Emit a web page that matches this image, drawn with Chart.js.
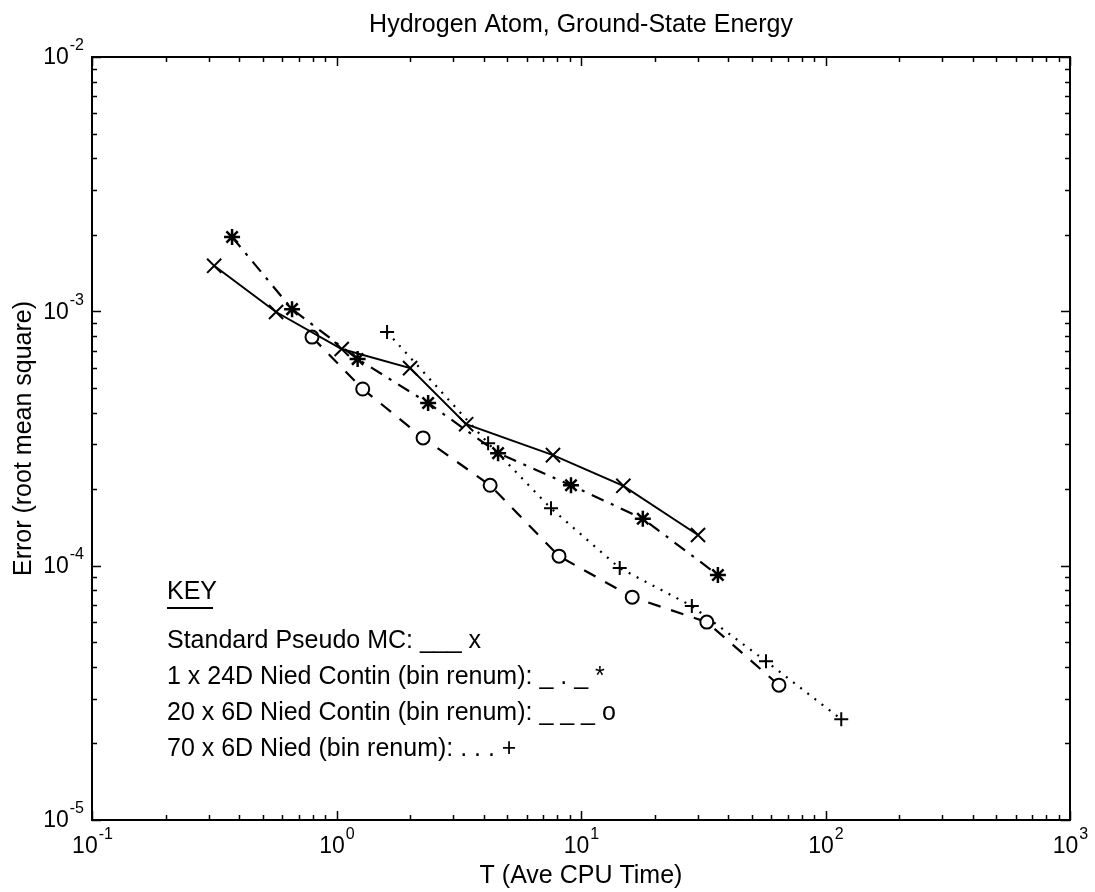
<!DOCTYPE html>
<html>
<head>
<meta charset="utf-8">
<script src="https://cdn.jsdelivr.net/npm/chart.js@4/dist/chart.umd.min.js"></script>
<style>
  html, body { margin: 0; padding: 0; background: #fff; }
  #wrap { width: 1095px; height: 892px; }
</style>
</head>
<body>
<div id="wrap"><canvas id="c" width="1095" height="892"></canvas></div>
<script>
// ---- data ----
const chartTitle = 'Hydrogen Atom, Ground-State Energy';
const xTitle = 'T (Ave CPU Time)';
const yTitle = 'Error (root mean square)';

const seriesNames = [
  'Standard Pseudo MC',
  '1 x 24D Nied Contin (bin renum)',
  '20 x 6D Nied Contin (bin renum)',
  '70 x 6D Nied (bin renum)'
];

const stdT   = [0.316, 0.566, 1.05, 2.0, 3.39, 7.68, 14.9, 30.1];
const stdErr = [1.51e-3, 9.94e-4, 7.11e-4, 5.98e-4, 3.60e-4, 2.72e-4, 2.06e-4, 1.32e-4];

const c24T   = [0.374, 0.658, 1.22, 2.37, 4.58, 9.10, 17.9, 36.3];
const c24Err = [1.96e-3, 1.02e-3, 6.49e-4, 4.36e-4, 2.77e-4, 2.07e-4, 1.53e-4, 9.19e-5];

const c6T    = [0.794, 1.28, 2.26, 4.25, 8.13, 16.2, 32.7, 64.5];
const c6Err  = [7.92e-4, 4.95e-4, 3.18e-4, 2.07e-4, 1.09e-4, 7.52e-5, 6.00e-5, 3.39e-5];

const n6T    = [1.61, 4.17, 7.54, 14.4, 28.4, 57.1, 116];
const n6Err  = [8.29e-4, 3.03e-4, 1.68e-4, 9.78e-5, 6.94e-5, 4.21e-5, 2.49e-5];

const xDecades = [-1, 0, 1, 2, 3];
const yDecades = [-5, -4, -3, -2];
const minorMultipliers = [2, 3, 4, 5, 6, 7, 8, 9];

const keyTitle = 'KEY';
const keyLines = [
  'Standard Pseudo MC: ___ x',
  '1 x 24D Nied Contin (bin renum): _ . _ *',
  '20 x 6D Nied Contin (bin renum): _ _ _ o',
  '70 x 6D Nied (bin renum): . . . +'
];

// ---- chart ----
const FONT = '"Liberation Sans", Arial, Helvetica, sans-serif';
const pts = (xs, ys) => xs.map((v, i) => ({ x: v, y: ys[i] }));

const decor = {
  id: 'decor',
  afterDraw(chart) {
    const { ctx, chartArea: a, scales } = chart;
    const xs = scales.x, ys = scales.y;
    ctx.save();
    ctx.strokeStyle = '#000';
    ctx.fillStyle = '#000';
    // box
    ctx.lineWidth = 2;
    ctx.strokeRect(a.left, a.top, a.right - a.left, a.bottom - a.top);
    // ticks (inward on all four sides)
    ctx.lineWidth = 1.5;
    const mults = [1].concat(minorMultipliers);
    xDecades.forEach(d => {
      mults.forEach(m => {
        const v = m * Math.pow(10, d);
        if (v > xs.max * 1.0001) return;
        const px = Math.round(xs.getPixelForValue(v)) + 0.5;
        const len = m === 1 ? 9 : 5;
        ctx.beginPath();
        ctx.moveTo(px, a.bottom); ctx.lineTo(px, a.bottom - len);
        ctx.moveTo(px, a.top); ctx.lineTo(px, a.top + len);
        ctx.stroke();
      });
    });
    yDecades.forEach(d => {
      mults.forEach(m => {
        const v = m * Math.pow(10, d);
        if (v > ys.max * 1.0001) return;
        const py = Math.round(ys.getPixelForValue(v)) + 0.5;
        const len = m === 1 ? 9 : 5;
        ctx.beginPath();
        ctx.moveTo(a.left, py); ctx.lineTo(a.left + len, py);
        ctx.moveTo(a.right, py); ctx.lineTo(a.right - len, py);
        ctx.stroke();
      });
    });
    // tick labels 10^n
    const mFont = '23px ' + FONT, eFont = '16px ' + FONT;
    ctx.textBaseline = 'middle';
    ctx.textAlign = 'left';
    const measure = (t, f) => { ctx.font = f; return ctx.measureText(t).width; };
    xDecades.forEach(d => {
      const px = xs.getPixelForValue(Math.pow(10, d));
      const e = String(d);
      const w1 = measure('10', mFont), w2 = measure(e, eFont);
      const start = px - (w1 + w2) / 2;
      ctx.font = mFont; ctx.fillText('10', start, a.bottom + 27);
      ctx.font = eFont; ctx.fillText(e, start + w1 + 1, a.bottom + 15);
    });
    yDecades.forEach(d => {
      const py = ys.getPixelForValue(Math.pow(10, d));
      const e = String(d);
      const w1 = measure('10', mFont), w2 = measure(e, eFont);
      const start = a.left - 9 - (w1 + w2);
      ctx.font = mFont; ctx.fillText('10', start, py + 1);
      ctx.font = eFont; ctx.fillText(e, start + w1 + 1, py - 11);
    });
    // axis titles
    ctx.font = '25px ' + FONT;
    ctx.textAlign = 'center';
    ctx.fillText(xTitle, (a.left + a.right) / 2, a.bottom + 56);
    ctx.save();
    ctx.translate(24, (a.top + a.bottom) / 2);
    ctx.rotate(-Math.PI / 2);
    ctx.fillText(yTitle, 0, 0);
    ctx.restore();
    // key
    ctx.textAlign = 'left';
    ctx.font = '25px ' + FONT;
    const kx = 167;
    ctx.fillText(keyTitle, kx, 592);
    const kw = ctx.measureText(keyTitle).width;
    ctx.lineWidth = 2;
    ctx.beginPath(); ctx.moveTo(kx, 608); ctx.lineTo(kx + kw - 4, 608); ctx.stroke();
    const rowY = [641, 677, 713, 749];
    keyLines.forEach((t, i) => ctx.fillText(t, kx, rowY[i]));
    ctx.restore();
  }
};

new Chart(document.getElementById('c'), {
  type: 'line',
  data: {
    datasets: [
      {
        label: seriesNames[0], data: pts(stdT, stdErr),
        borderColor: '#000', borderWidth: 2, borderDash: [],
        pointStyle: 'crossRot', pointRadius: 10, pointBorderWidth: 2,
        pointBorderColor: '#000', pointBackgroundColor: '#000'
      },
      {
        label: seriesNames[1], data: pts(c24T, c24Err),
        borderColor: '#000', borderWidth: 2.2, borderDash: [13, 8, 3, 8],
        pointStyle: 'star', pointRadius: 8, pointBorderWidth: 2.5,
        pointBorderColor: '#000', pointBackgroundColor: '#000'
      },
      {
        label: seriesNames[2], data: pts(c6T, c6Err),
        borderColor: '#000', borderWidth: 2.2, borderDash: [13, 11],
        pointStyle: 'circle', pointRadius: 6.5, pointBorderWidth: 2,
        pointBorderColor: '#000', pointBackgroundColor: '#fff'
      },
      {
        label: seriesNames[3], data: pts(n6T, n6Err),
        borderColor: '#000', borderWidth: 2.2, borderDash: [2, 7],
        pointStyle: 'cross', pointRadius: 7, pointBorderWidth: 2,
        pointBorderColor: '#000', pointBackgroundColor: '#000'
      }
    ]
  },
  options: {
    responsive: false,
    animation: false,
    devicePixelRatio: 1,
    layout: { padding: { left: 0, right: 25, top: 0, bottom: 0 } },
    plugins: {
      legend: { display: false },
      tooltip: { enabled: false },
      title: {
        display: true, text: chartTitle, fullSize: false, color: '#000',
        font: { family: FONT, size: 25, weight: 'normal', lineHeight: 1.2 },
        padding: { top: 10, bottom: 17 }
      }
    },
    elements: { line: { tension: 0, fill: false } },
    scales: {
      x: {
        type: 'logarithmic', min: 0.1, max: 1000,
        grid: { display: false, drawTicks: false }, border: { display: false },
        ticks: { display: false },
        afterFit: s => { s.height = 72; }
      },
      y: {
        type: 'logarithmic', min: 1e-5, max: 1e-2,
        grid: { display: false, drawTicks: false }, border: { display: false },
        ticks: { display: false },
        afterFit: s => { s.width = 92; }
      }
    }
  },
  plugins: [decor]
});
</script>
</body>
</html>
